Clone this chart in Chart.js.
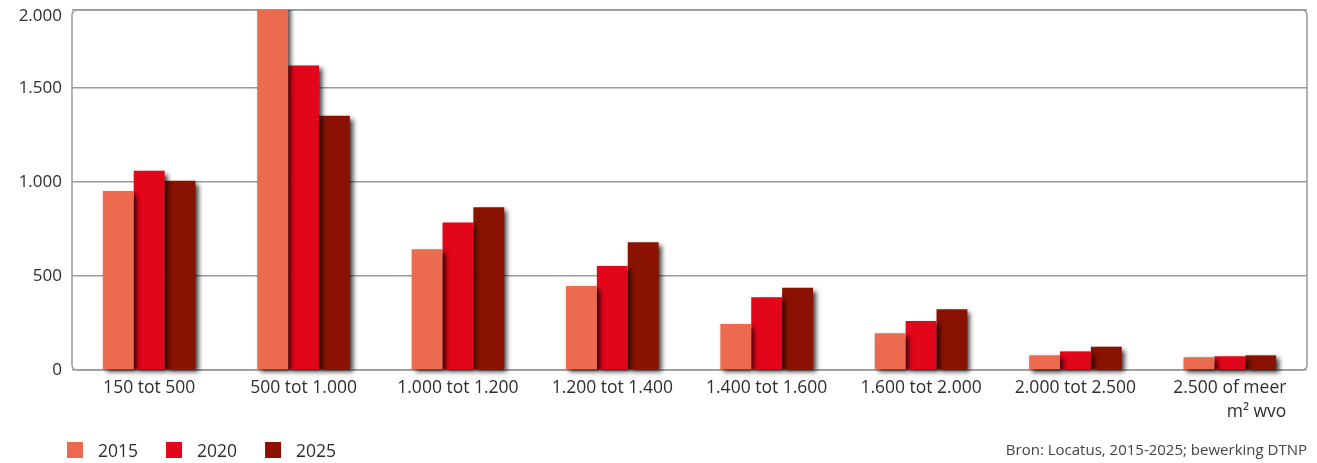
<!DOCTYPE html>
<html>
<head>
<meta charset="utf-8">
<script src="https://cdn.jsdelivr.net/npm/chart.js@4/dist/chart.umd.min.js"></script>
<style>
  html, body { margin: 0; padding: 0; background: #ffffff; }
  #wrap { width: 1317px; height: 463px; position: relative; }
</style>
</head>
<body>
<div id="wrap"><canvas id="c" width="1317" height="463"></canvas></div>
<script>
// Number of shops per floor-area class (m² wvo)
const categories = [
  ['150 tot 500'],
  ['500 tot 1.000'],
  ['1.000 tot 1.200'],
  ['1.200 tot 1.400'],
  ['1.400 tot 1.600'],
  ['1.600 tot 2.000'],
  ['2.000 tot 2.500'],
  ['2.500 of meer', 'm² wvo']
];
const years = ['2015', '2020', '2025'];
const values2015 = [952, 2000, 642, 447, 245, 195, 78, 68];
const values2020 = [1060, 1620, 784, 553, 387, 261, 99, 73];
const values2025 = [1007, 1353, 866, 679, 438, 323, 124, 78];
const colours = ['#EC6A4E', '#E2061A', '#8A1200'];
const yTicks = [0, 500, 1000, 1500];
const yTop = 1915;          // upper edge of the plot box, labelled 2.000
const yTopLabel = '2.000';
const sourceNote = 'Bron: Locatus, 2015-2025; bewerking DTNP';

const FONT = '"Open Sans", "DejaVu Sans", sans-serif';
const TEXT = '#2e2e2e';

const fmt = v => v.toLocaleString('nl-NL');

// Rounded frame around the plot area plus drop shadows under the bars
const frameAndShadow = {
  id: 'frameAndShadow',
  beforeDatasetsDraw(chart) {
    const { ctx, chartArea: a } = chart;
    ctx.save();
    ctx.strokeStyle = '#9a9a9a';
    ctx.lineWidth = 1.5;
    ctx.beginPath();
    ctx.roundRect(a.left, a.top, a.right - a.left, a.bottom - a.top, 5);
    ctx.stroke();
    ctx.restore();
    ctx.save();
    ctx.shadowColor = 'rgba(0,0,0,0.8)';
    ctx.shadowBlur = 5;
    ctx.shadowOffsetX = 3;
    ctx.shadowOffsetY = 3;
  },
  afterDatasetsDraw(chart) {
    chart.ctx.restore();
  }
};

// Category labels, top value label, legend and source line
const labelsAndLegend = {
  id: 'labelsAndLegend',
  afterDraw(chart) {
    const { ctx, chartArea: a } = chart;
    const xs = chart.scales.x;
    ctx.save();
    ctx.fillStyle = TEXT;
    ctx.textBaseline = 'middle';

    ctx.font = '17px ' + FONT;
    ctx.textAlign = 'right';
    ctx.fillText(yTopLabel, a.left - 10, a.top + 6);

    ctx.font = '17.5px ' + FONT;
    chart.data.labels.forEach((lines, i) => {
      const cx = xs.getPixelForValue(i);
      const w0 = ctx.measureText(lines[0]).width;
      ctx.textAlign = 'center';
      ctx.fillText(lines[0], cx, a.bottom + 18);
      if (lines.length > 1) {
        ctx.textAlign = 'right';
        ctx.fillText(lines[1], cx + w0 / 2, a.bottom + 42);
      }
    });

    // legend
    ctx.font = '17.5px ' + FONT;
    ctx.textAlign = 'left';
    let x = 67;
    chart.data.datasets.forEach(ds => {
      ctx.fillStyle = ds.backgroundColor;
      ctx.fillRect(x, 442, 16, 16);
      ctx.fillStyle = TEXT;
      ctx.fillText(ds.label, x + 31, 452);
      x += 31 + ctx.measureText(ds.label).width + 28;
    });

    // source
    ctx.font = '15px ' + FONT;
    ctx.textAlign = 'right';
    ctx.fillStyle = '#444444';
    ctx.fillText(sourceNote, a.right, 451);
    ctx.restore();
  }
};

new Chart(document.getElementById('c'), {
  type: 'bar',
  data: {
    labels: categories,
    datasets: [
      { label: years[0], data: values2015, backgroundColor: colours[0] },
      { label: years[1], data: values2020, backgroundColor: colours[1] },
      { label: years[2], data: values2025, backgroundColor: colours[2] }
    ]
  },
  options: {
    responsive: false,
    animation: false,
    devicePixelRatio: 1,
    layout: { padding: { top: 0, right: 10, left: 0, bottom: 0 } },
    datasets: {
      bar: {
        categoryPercentage: 0.6,
        barPercentage: 1.0,
        borderWidth: 0,
        clip: { left: 0, top: 0, right: 10, bottom: 10 }
      }
    },
    plugins: { legend: { display: false }, tooltip: { enabled: false } },
    scales: {
      x: {
        grid: { display: false },
        border: { display: false },
        ticks: { display: false },
        afterFit(scale) { scale.height = 93; }
      },
      y: {
        min: 0,
        max: yTop,
        afterBuildTicks(scale) {
          scale.ticks = yTicks.concat([yTop]).map(v => ({ value: v }));
        },
        afterFit(scale) {
          scale.width = 72;
          scale.paddingTop = 10;
        },
        grid: { color: '#9a9a9a', lineWidth: 1.5, drawTicks: false },
        border: { display: false },
        ticks: {
          padding: 10,
          color: TEXT,
          font: { family: FONT, size: 17 },
          callback: v => (v === yTop ? '' : fmt(v))
        }
      }
    }
  },
  plugins: [frameAndShadow, labelsAndLegend]
});
</script>
</body>
</html>
